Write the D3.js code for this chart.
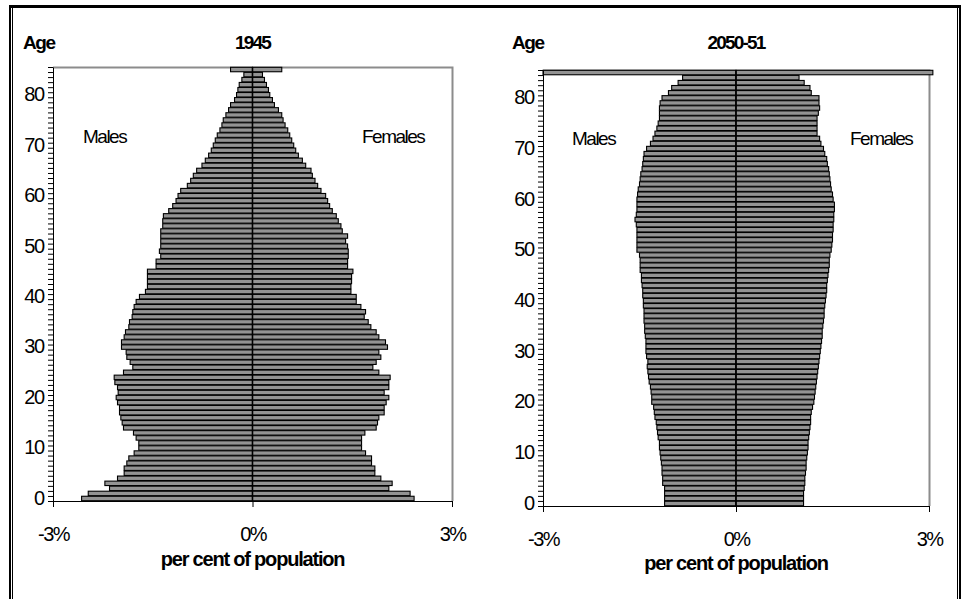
<!DOCTYPE html>
<html>
<head>
<meta charset="utf-8">
<script src="https://cdn.jsdelivr.net/npm/d3@7"></script>
<style>
  body { margin: 0; background: #fff; }
  svg text { font-family: "Liberation Sans", Arial, sans-serif; fill: #000; }
</style>
</head>
<body>
<svg id="chart" width="961" height="599"></svg>
<script>
// Age groups 0..84 and 85+ (index 85)
const ages = d3.range(0, 86);
const ageTicks = [0, 10, 20, 30, 40, 50, 60, 70, 80];
const pctTicks = [-3, 0, 3];

// 1945 - per cent of population by single year of age
const males1945 = [
  2.57, 2.47, 2.15, 2.22, 2.03, 1.93, 1.93, 1.89, 1.86, 1.78,
  1.71, 1.71, 1.75, 1.79, 1.94, 1.96, 1.98, 2.00, 2.00, 2.03,
  2.05, 2.02, 2.03, 2.07, 2.08, 1.94, 1.80, 1.84, 1.89, 1.90,
  1.97, 1.97, 1.93, 1.91, 1.86, 1.85, 1.81, 1.80, 1.78, 1.75,
  1.70, 1.61, 1.58, 1.58, 1.58, 1.58, 1.45, 1.45, 1.38, 1.40,
  1.38, 1.38, 1.38, 1.38, 1.35, 1.35, 1.34, 1.26, 1.20, 1.15,
  1.12, 1.08, 0.98, 0.93, 0.89, 0.84, 0.76, 0.71, 0.66, 0.62,
  0.59, 0.56, 0.53, 0.49, 0.46, 0.44, 0.40, 0.36, 0.33, 0.27,
  0.24, 0.22, 0.20, 0.16, 0.13, 0.33
];
const females1945 = [
  2.43, 2.37, 2.05, 2.10, 1.93, 1.84, 1.84, 1.79, 1.79, 1.70,
  1.64, 1.64, 1.64, 1.69, 1.86, 1.88, 1.90, 1.98, 1.98, 2.01,
  2.05, 1.98, 2.05, 2.05, 2.07, 1.90, 1.81, 1.86, 1.93, 1.90,
  2.03, 2.00, 1.90, 1.86, 1.78, 1.74, 1.68, 1.70, 1.63, 1.56,
  1.56, 1.48, 1.48, 1.49, 1.49, 1.51, 1.43, 1.43, 1.44, 1.44,
  1.43, 1.40, 1.43, 1.35, 1.33, 1.29, 1.26, 1.20, 1.16, 1.13,
  1.10, 1.03, 0.98, 0.94, 0.90, 0.88, 0.80, 0.75, 0.69, 0.65,
  0.62, 0.59, 0.56, 0.53, 0.49, 0.46, 0.44, 0.39, 0.33, 0.30,
  0.26, 0.24, 0.21, 0.18, 0.15, 0.44
];

// 2050-51 projection
const males2050 = [
  1.11, 1.11, 1.11, 1.11, 1.14, 1.14, 1.15, 1.15, 1.16, 1.17,
  1.18, 1.19, 1.19, 1.21, 1.22, 1.23, 1.24, 1.26, 1.27, 1.28,
  1.31, 1.31, 1.32, 1.33, 1.35, 1.36, 1.37, 1.38, 1.37, 1.39,
  1.40, 1.40, 1.40, 1.41, 1.42, 1.42, 1.43, 1.43, 1.43, 1.44,
  1.44, 1.45, 1.45, 1.46, 1.47, 1.47, 1.49, 1.49, 1.49, 1.50,
  1.54, 1.54, 1.54, 1.54, 1.54, 1.55, 1.57, 1.55, 1.54, 1.54,
  1.54, 1.53, 1.52, 1.50, 1.49, 1.48, 1.46, 1.45, 1.44, 1.43,
  1.39, 1.33, 1.29, 1.26, 1.23, 1.21, 1.19, 1.19, 1.19, 1.18,
  1.15, 1.05, 1.00, 0.90, 0.83, 3.00
];
const females2050 = [
  1.05, 1.05, 1.05, 1.06, 1.07, 1.07, 1.08, 1.09, 1.09, 1.10,
  1.11, 1.12, 1.12, 1.13, 1.14, 1.15, 1.16, 1.16, 1.17, 1.19,
  1.21, 1.22, 1.23, 1.24, 1.25, 1.26, 1.27, 1.28, 1.29, 1.30,
  1.31, 1.32, 1.33, 1.34, 1.34, 1.35, 1.36, 1.37, 1.37, 1.38,
  1.39, 1.40, 1.41, 1.41, 1.42, 1.43, 1.44, 1.45, 1.45, 1.46,
  1.48, 1.49, 1.50, 1.50, 1.51, 1.51, 1.52, 1.52, 1.53, 1.53,
  1.51, 1.50, 1.48, 1.47, 1.46, 1.45, 1.44, 1.42, 1.41, 1.38,
  1.36, 1.32, 1.30, 1.26, 1.26, 1.26, 1.26, 1.28, 1.30, 1.29,
  1.29, 1.17, 1.15, 1.06, 0.98, 3.06
];

const svg = d3.select("#chart");

// Outer frame
svg.append("rect").attr("x", 9).attr("y", 5).attr("width", 952).attr("height", 3).attr("fill", "#000");
svg.append("rect").attr("x", 9).attr("y", 5).attr("width", 2).attr("height", 594).attr("fill", "#000");
svg.append("rect").attr("x", 12).attr("y", 5).attr("width", 1).attr("height", 594).attr("fill", "#000");
svg.append("rect").attr("x", 957).attr("y", 5).attr("width", 1).attr("height", 594).attr("fill", "#000");
svg.append("rect").attr("x", 959).attr("y", 5).attr("width", 2).attr("height", 594).attr("fill", "#000");

function draw_pyramid(males, females, title, dims) {
  const g = svg.append("g");

  const x = d3.scaleLinear().domain([-3, 3]).range([dims.left, dims.right]);
  const y = d3.scaleBand().domain(ages).range([dims.bottom, dims.top]).paddingInner(0.12).paddingOuter(0.06);
  const yEdge = d3.scaleLinear().domain([0, ages.length]).range([dims.bottom, dims.top]);

  // plot area frame (grey)
  g.append("path")
    .attr("d", `M${x(-3)},${dims.top + 0.5}H${x(3) + 0.5}V${dims.bottom}`)
    .attr("fill", "none")
    .attr("stroke", "#8c8c8c")
    .attr("stroke-width", 2);

  // Male bars (left)
  g.append("g")
    .selectAll("rect")
    .data(ages)
    .join("rect")
    .attr("x", (d) => x(-males[d]))
    .attr("y", (d) => y(d))
    .attr("width", (d) => x(0) - x(-males[d]))
    .attr("height", y.bandwidth())
    .attr("fill", "#939393")
    .attr("stroke", "#000")
    .attr("stroke-width", 1.1);

  // Female bars (right)
  g.append("g")
    .selectAll("rect")
    .data(ages)
    .join("rect")
    .attr("x", x(0))
    .attr("y", (d) => y(d))
    .attr("width", (d) => x(females[d]) - x(0))
    .attr("height", y.bandwidth())
    .attr("fill", "#939393")
    .attr("stroke", "#000")
    .attr("stroke-width", 1.1);

  // centre line
  g.append("line")
    .attr("x1", x(0)).attr("x2", x(0))
    .attr("y1", dims.top).attr("y2", dims.bottom)
    .attr("stroke", "#000")
    .attr("stroke-width", 1.5);

  // minor ticks on age axis (one per age band) + axis line
  g.append("g")
    .attr("transform", `translate(${dims.left}, 0)`)
    .call(d3.axisLeft(yEdge).tickValues(d3.range(0, ages.length + 1)).tickSize(5).tickSizeOuter(0).tickFormat(""))
    .call((a) => a.selectAll("line, path").attr("stroke", "#000"));

  // age labels
  g.append("g")
    .attr("transform", `translate(${dims.left}, 0)`)
    .call(d3.axisLeft(y).tickValues(ageTicks).tickSize(0).tickPadding(9))
    .call((a) => a.select(".domain").remove())
    .selectAll("text")
    .attr("font-size", "20px")
    .attr("letter-spacing", "-1.2px")
    .attr("fill", "#000")
    .attr("font-family", "Liberation Sans, Arial, sans-serif");

  // percentage axis
  g.append("g")
    .attr("transform", `translate(0, ${dims.bottom})`)
    .call(d3.axisBottom(x).tickValues(pctTicks).tickSize(6).tickSizeOuter(0).tickPadding(20).tickFormat((d) => d + "%"))
    .call((a) => a.selectAll("line, path").attr("stroke", "#000"))
    .selectAll("text")
    .attr("font-size", "20px")
    .attr("letter-spacing", "-1.6px")
    .attr("fill", "#000")
    .attr("font-family", "Liberation Sans, Arial, sans-serif");

  // Title + "Age"
  g.append("text")
    .attr("x", (x(-3) + x(3)) / 2)
    .attr("y", dims.titleY)
    .attr("text-anchor", "middle")
    .style("font-size", "19px")
    .style("font-weight", "bold")
    .style("letter-spacing", "-1.8px")
    .text(title);

  g.append("text")
    .attr("x", dims.ageX)
    .attr("y", dims.titleY)
    .style("font-size", "19px")
    .style("font-weight", "bold")
    .style("letter-spacing", "-1.4px")
    .text("Age");

  // Males / Females
  g.append("text")
    .attr("x", dims.malesX)
    .attr("y", dims.sexY)
    .style("font-size", "19px")
    .style("letter-spacing", "-1.5px")
    .text("Males");

  g.append("text")
    .attr("x", dims.femalesX)
    .attr("y", dims.sexY)
    .style("font-size", "19px")
    .style("letter-spacing", "-1.5px")
    .text("Females");

  // x axis label
  g.append("text")
    .attr("x", (x(-3) + x(3)) / 2)
    .attr("y", dims.xLabelY)
    .attr("text-anchor", "middle")
    .style("font-size", "20px")
    .style("font-weight", "bold")
    .style("letter-spacing", "-1.2px")
    .text("per cent of population");
}

draw_pyramid(males1945, females1945, "1945", {
  left: 53, right: 452, top: 67, bottom: 501,
  titleY: 49, ageX: 23, sexY: 143, malesX: 83, femalesX: 362, xLabelY: 566
});

draw_pyramid(males2050, females2050, "2050-51", {
  left: 543, right: 929, top: 70, bottom: 506,
  titleY: 49, ageX: 512, sexY: 145, malesX: 572, femalesX: 850, xLabelY: 570
});
</script>
</body>
</html>
